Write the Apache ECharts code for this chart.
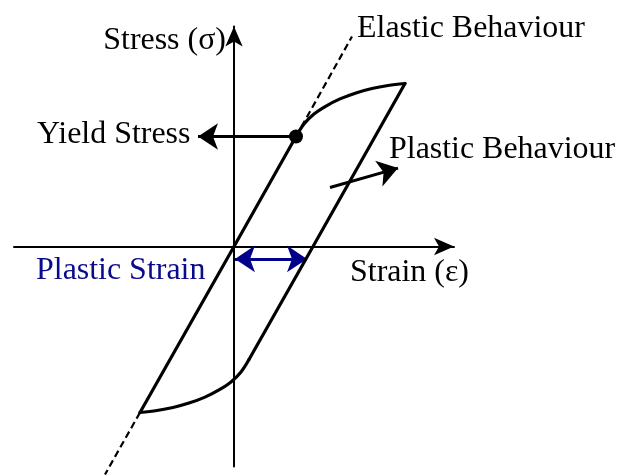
<!DOCTYPE html>
<html lang="en">
<head>
<meta charset="UTF-8">
<title>Stress strain loop</title>
<script src="https://cdn.jsdelivr.net/npm/echarts@6/dist/echarts.min.js"></script>
<style>
  body { margin: 0; padding: 0; background: #fff; }
  #main { width: 620px; height: 475px; }
</style>
</head>
<body>
<div id="main"></div>
<script>
  // strain / stress in arbitrary units, origin where the two axes cross
  var elasticLine = [[-4.7, -8.3], [0, 0], [3.1, 5.5]];
  var loadCurve = [[3.1, 5.5], [3.5, 6.12], [4.0, 6.62], [4.6, 7.02], [5.3, 7.38], [6.1, 7.68], [6.9, 7.9], [7.7, 8.05], [8.55, 8.15]];
  var unloadLine = [[8.55, 8.15], [3.95, 0], [0.75, -5.65]];
  var reverseCurve = [[0.75, -5.65], [0.35, -6.27], [-0.15, -6.77], [-0.75, -7.17], [-1.45, -7.53], [-2.25, -7.83], [-3.05, -8.05], [-3.85, -8.2], [-4.7, -8.3]];
  // dashed continuation of the elastic line
  var elasticUp = [[3.1, 5.5], [5.9, 10.5]];
  var elasticDown = [[-4.7, -8.3], [-6.45, -11.4]];
  var yieldPoint = [[3.1, 5.5]];
  // annotation arrows (start, tip)
  var yieldArrow = [[3.1, 5.5], [-1.8, 5.5]];
  var plasticArrow = [[4.8, 2.95], [8.2, 3.92]];
  var plasticStrain = [[0.05, -0.62], [3.65, -0.62]];

  var black = '#000';
  var navy = '#00008b';
  var font = '"Liberation Serif", "Times New Roman", serif';

  function label(text, x, y, align, color) {
    return {
      type: 'text',
      x: x,
      y: y,
      scaleX: 1.03,
      style: {
        text: text,
        font: '31px ' + font,
        fill: color || black,
        align: align || 'left',
        verticalAlign: 'middle',
        textAlign: align || 'left',
        textVerticalAlign: 'middle'
      }
    };
  }

  function curve(data, extra) {
    var s = {
      type: 'line',
      data: data,
      symbol: 'none',
      silent: true,
      lineStyle: { color: black, width: 3.2, cap: 'round', join: 'round' }
    };
    for (var k in extra) s[k] = extra[k];
    return s;
  }

  var chart = echarts.init(document.getElementById('main'));
  chart.setOption({
    backgroundColor: '#fff',
    animation: false,
    grid: { left: 14, right: 166, top: 26.5, bottom: 8.5 },
    xAxis: {
      type: 'value', min: -11, max: 11,
      axisLine: { onZero: true, symbol: ['none', 'arrow'], symbolSize: [13, 20], lineStyle: { color: black, width: 2 } },
      axisTick: { show: false }, axisLabel: { show: false }, splitLine: { show: false }
    },
    yAxis: {
      type: 'value', min: -11, max: 11,
      axisLine: { onZero: true, symbol: ['none', 'arrow'], symbolSize: [13, 20], lineStyle: { color: black, width: 2 } },
      axisTick: { show: false }, axisLabel: { show: false }, splitLine: { show: false }
    },
    series: [
      curve(elasticLine),
      curve(loadCurve, { smooth: 0.35 }),
      curve(unloadLine),
      curve(reverseCurve, { smooth: 0.35 }),
      curve(elasticUp, { lineStyle: { color: black, width: 2.2, type: [7, 4] } }),
      curve(elasticDown, { clip: false, lineStyle: { color: black, width: 2.2, type: [7, 4] } }),
      {
        type: 'lines',
        coordinateSystem: 'cartesian2d',
        silent: true,
        symbol: ['none', 'arrow'],
        symbolSize: 20,
        lineStyle: { color: black, width: 3, opacity: 1 },
        data: [{ coords: yieldArrow }, { coords: plasticArrow }]
      },
      {
        type: 'lines',
        coordinateSystem: 'cartesian2d',
        silent: true,
        symbol: ['arrow', 'arrow'],
        symbolSize: 20,
        lineStyle: { color: navy, width: 3, opacity: 1 },
        data: [{ coords: plasticStrain }]
      },
      {
        type: 'scatter',
        data: yieldPoint,
        symbolSize: 14,
        silent: true,
        z: 5,
        itemStyle: { color: black, opacity: 1 }
      }
    ],
    graphic: [
      label('Stress (\u03c3)', 226, 41, 'right'),
      label('Elastic Behaviour', 357, 29),
      label('Yield Stress', 37, 135),
      label('Plastic Behaviour', 389, 150),
      label('Plastic Strain', 36, 271, 'left', '#0a0a8c'),
      label('Strain (\u03b5)', 350, 273)
    ]
  });
</script>
</body>
</html>
